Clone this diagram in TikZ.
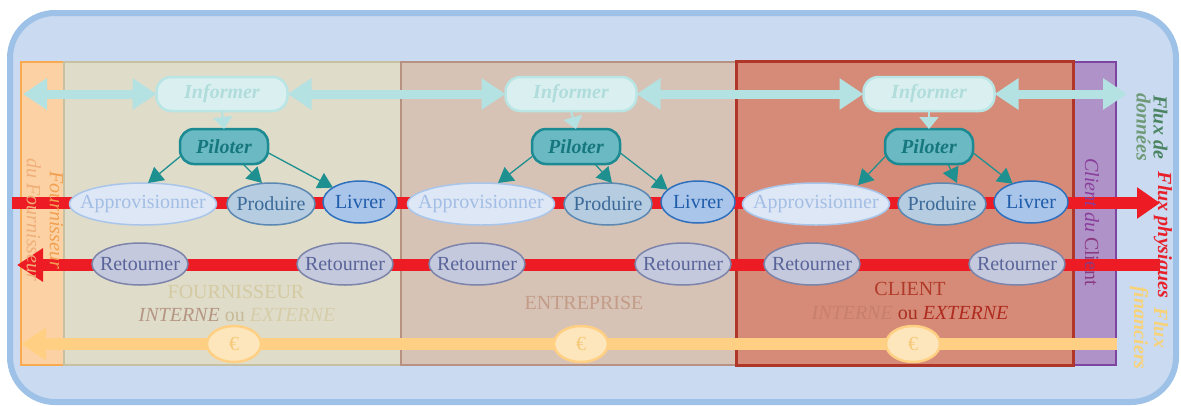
\documentclass[tikz,border=0pt]{standalone}
\usepackage{fontspec}
\setmainfont{Liberation Serif}
\usetikzlibrary{shapes.geometric,arrows.meta}
\pgfdeclarelayer{bg}
\pgfdeclarelayer{band}
\pgfsetlayers{bg,band,main}
\definecolor{outerFill}{HTML}{CADAF0}
\definecolor{outerLine}{HTML}{9DC1E7}
\definecolor{orFill}{HTML}{FCD2A4}
\definecolor{orLine}{HTML}{F9A94F}
\definecolor{foFill}{HTML}{DFDCCA}
\definecolor{foLine}{HTML}{C7C1A1}
\definecolor{enFill}{HTML}{D7C2B6}
\definecolor{enLine}{HTML}{B79283}
\definecolor{clFill}{HTML}{D58B77}
\definecolor{clLine}{HTML}{B1362A}
\definecolor{puFill}{HTML}{AF93C8}
\definecolor{puLine}{HTML}{7D45A1}
\definecolor{redBand}{HTML}{ED1C24}
\definecolor{yelBand}{HTML}{FFD083}
\definecolor{cyanBand}{HTML}{B4E2E2}
\definecolor{infFill}{HTML}{DAF0F0}
\definecolor{infLine}{HTML}{B9E5E5}
\definecolor{infText}{HTML}{B0DCDC}
\definecolor{pilFill}{HTML}{6BB9C3}
\definecolor{pilLine}{HTML}{1B8A92}
\definecolor{pilText}{HTML}{16787E}
\definecolor{tealArrow}{HTML}{1F9090}
\definecolor{apFill}{HTML}{DDE7F6}
\definecolor{apLine}{HTML}{A9C6EA}
\definecolor{apText}{HTML}{A3BEE4}
\definecolor{prFill}{HTML}{B5CCE1}
\definecolor{prLine}{HTML}{5C88B2}
\definecolor{prText}{HTML}{3B6A99}
\definecolor{lvFill}{HTML}{A9C5EA}
\definecolor{lvLine}{HTML}{2F70BE}
\definecolor{lvText}{HTML}{1F5CAA}
\definecolor{reFill}{HTML}{C5C9DD}
\definecolor{reLine}{HTML}{7C84AA}
\definecolor{reText}{HTML}{59659A}
\definecolor{euFill}{HTML}{FEE6BC}
\definecolor{euLine}{HTML}{FFD083}
\definecolor{euText}{HTML}{F5C878}
\newcommand{\zbox}[1]{\makebox[0pt]{#1}}
\begin{document}
\begin{tikzpicture}[x=1pt,y=-1pt,
  every node/.style={inner sep=0pt,outer sep=0pt,font=\fontsize{20}{21}\selectfont},
  panel/.style={line width=2.5pt},
  informer/.style={rectangle,rounded corners=15pt,minimum width=131pt,minimum height=34pt,
    fill=infFill,draw=infLine,line width=2.5pt,text=infText,font=\fontsize{20}{21}\selectfont\bfseries\itshape},
  piloter/.style={rectangle,rounded corners=14pt,minimum width=88pt,minimum height=35pt,
    fill=pilFill,draw=pilLine,line width=2.5pt,text=pilText,font=\fontsize{20}{21}\selectfont\bfseries\itshape},
  appro/.style={ellipse,minimum width=147pt,minimum height=42pt,fill=apFill,draw=apLine,line width=1.5pt,text=apText},
  produire/.style={ellipse,minimum width=88pt,minimum height=42pt,fill=prFill,draw=prLine,line width=1.5pt,text=prText},
  livrer/.style={ellipse,minimum width=74pt,minimum height=42pt,fill=lvFill,draw=lvLine,line width=1.5pt,text=lvText},
  retour/.style={ellipse,minimum width=96pt,minimum height=42pt,fill=reFill,draw=reLine,line width=1.5pt,text=reText},
  euro/.style={ellipse,minimum width=54pt,minimum height=36pt,fill=euFill,draw=euLine,line width=2.5pt,text=euText},
  databand/.style={draw=cyanBand,line width=9pt,
    {Triangle[length=24pt,width=30pt]}-{Triangle[length=24pt,width=30pt]}},
  infarrow/.style={draw=cyanBand,line width=2pt,-{Triangle[length=12pt,width=19pt]}},
  pilarrow/.style={draw=tealArrow,line width=1.3pt,-{Triangle[length=15pt,width=17pt]}},
  redbandstyle/.style={draw=redBand,line width=11.5pt},
  yelbandstyle/.style={draw=yelBand,line width=12pt},
  vlabel/.style={rotate=-90,align=center}
]
\useasboundingbox (0,0) rectangle (1181,405);

\begin{pgfonlayer}{bg}
  \draw[fill=outerFill,draw=outerLine,line width=6pt,rounded corners=45pt] (10,13) rectangle (1176,402);
  \draw[panel,fill=orFill,draw=orLine] (21,62) rectangle (64,365);
  \draw[panel,fill=puFill,draw=puLine] (1073,62) rectangle (1116,365);
  \draw[panel,fill=foFill,draw=foLine] (64,62) rectangle (401,365);
  \draw[panel,fill=enFill,draw=enLine] (401,62) rectangle (736,365);
  \draw[panel,line width=3pt,fill=clFill,draw=clLine] (736,61) rectangle (1073,365);
\end{pgfonlayer}

% coordinates for free band ends
\coordinate (dL) at (23,94);
\coordinate (dR) at (1127,94);
\coordinate (fS) at (12,203);
\coordinate (fE) at (1160,203);
\coordinate (rS) at (1160,265);
\coordinate (rE) at (17,265);
\coordinate (yS) at (1117,344);
\coordinate (yE) at (21,344);

% Informer / Piloter
\node[informer] (inf1) at (222,94) {Informer};
\node[informer] (inf2) at (571,94) {Informer};
\node[informer] (inf3) at (929,94) {Informer};
\node[piloter] (pil1) at (224,146.5) {Piloter};
\node[piloter] (pil2) at (576,146.5) {Piloter};
\node[piloter] (pil3) at (929,146.5) {Piloter};

% physical flow nodes
\node[appro] (ap1) at (143,204) {\zbox{Approvisionner}};
\node[appro] (ap2) at (481,204) {\zbox{Approvisionner}};
\node[appro] (ap3) at (816,204) {\zbox{Approvisionner}};
\node[produire] (pr1) at (271,204) {\zbox{Produire}};
\node[produire] (pr2) at (608,204) {\zbox{Produire}};
\node[produire] (pr3) at (942,204) {\zbox{Produire}};
\node[livrer] (lv1) at (360,202) {\zbox{Livrer}};
\node[livrer] (lv2) at (698,202) {\zbox{Livrer}};
\node[livrer] (lv3) at (1031,202) {\zbox{Livrer}};

\node[retour] (re1) at (140,264) {\zbox{Retourner}};
\node[retour] (re2) at (345,264) {\zbox{Retourner}};
\node[retour] (re3) at (477,264) {\zbox{Retourner}};
\node[retour] (re4) at (683,264) {\zbox{Retourner}};
\node[retour] (re5) at (812,264) {\zbox{Retourner}};
\node[retour] (re6) at (1017,264) {\zbox{Retourner}};

\node[euro] (eu1) at (234,344) {\zbox{€}};
\node[euro] (eu2) at (581,344) {\zbox{€}};
\node[euro] (eu3) at (913,344) {\zbox{€}};

% bands
\begin{pgfonlayer}{band}
  \draw[redbandstyle,-{Triangle[length=23pt,width=30pt]}] (fS) -- (fE);
  \draw[redbandstyle,-{Triangle[length=26pt,width=32pt]}] (rS) -- (rE);
  \draw[yelbandstyle,-{Triangle[length=25pt,width=31pt]}] (yS) -- (yE);
  \draw[databand] (dL) -- (inf1.west);
  \draw[databand] (inf1.east) -- (inf2.west);
  \draw[databand] (inf2.east) -- (inf3.west);
  \draw[databand] (inf3.east) -- (dR);
\end{pgfonlayer}

% Informer -> Piloter
\draw[infarrow] (inf1.south) -- (pil1.north);
\draw[infarrow] (inf2.south) -- (pil2.north);
\draw[infarrow] (inf3.south) -- (pil3.north);

% Piloter -> activities
\draw[pilarrow] (pil1.193) -- ([xshift=5pt]ap1.north);
\draw[pilarrow] ([xshift=19pt]pil1.south) -- ([xshift=-9pt]pr1.north);
\draw[pilarrow] (pil1.-8) -- (lv1.152);
\draw[pilarrow] (pil2.193) -- ([xshift=17pt]ap2.north);
\draw[pilarrow] ([xshift=19pt]pil2.south) -- ([xshift=4pt]pr2.north);
\draw[pilarrow] (pil2.-8) -- (lv2.158);
\draw[pilarrow] (pil3.193) -- ([xshift=42pt,yshift=-2pt]ap3.north);
\draw[pilarrow] ([xshift=19pt]pil3.south) -- ([xshift=15pt]pr3.north);
\draw[pilarrow] (pil3.-8) -- (lv3.135);

% zone labels
\node (tF) at (236,292) {\textcolor[HTML]{D4CAA2}{FOURNISSEUR}};
\node (tF2) at (237,315) {\textcolor[HTML]{B59683}{\itshape INTERNE} \textcolor[HTML]{C6BA96}{ou} \textcolor[HTML]{D6CDA8}{\itshape EXTERNE}};
\node (tE) at (584,303) {\textcolor[HTML]{C39C88}{ENTREPRISE}};
\node (tC) at (910,289) {\textcolor[HTML]{B23A2A}{CLIENT}};
\node (tC2) at (910,313) {\textcolor[HTML]{C7806E}{\itshape INTERNE} \textcolor[HTML]{A83020}{ou} \textcolor[HTML]{B02A20}{\itshape EXTERNE}};

% vertical labels
\node[vlabel,font=\fontsize{20}{23}\selectfont\itshape] (vF) at (45,220)
  {\textcolor[HTML]{F2A050}{Fournisseur}\\\textcolor[HTML]{F0AE78}{du Fournisseur}};
\node[vlabel,font=\fontsize{20}{21}\selectfont] (vC) at (1092,222)
  {\textcolor[HTML]{8A3C9A}{\itshape Client du} \textcolor[HTML]{8B3A7E}{Client}};
\node[vlabel,font=\fontsize{20}{17}\selectfont\bfseries\itshape] (vD) at (1152,127)
  {\textcolor[HTML]{4A8462}{Flux de}\\\textcolor[HTML]{6E9A78}{données}};
\node[vlabel,font=\fontsize{20}{21}\selectfont\bfseries\itshape] (vP) at (1163,235)
  {\textcolor[HTML]{E8202A}{Flux physiques}};
\node[vlabel,font=\fontsize{20}{20}\selectfont\bfseries\itshape] (vM) at (1149,328)
  {\textcolor[HTML]{F8D278}{Flux}\\\textcolor[HTML]{F8D278}{financiers}};
\end{tikzpicture}
\end{document}
